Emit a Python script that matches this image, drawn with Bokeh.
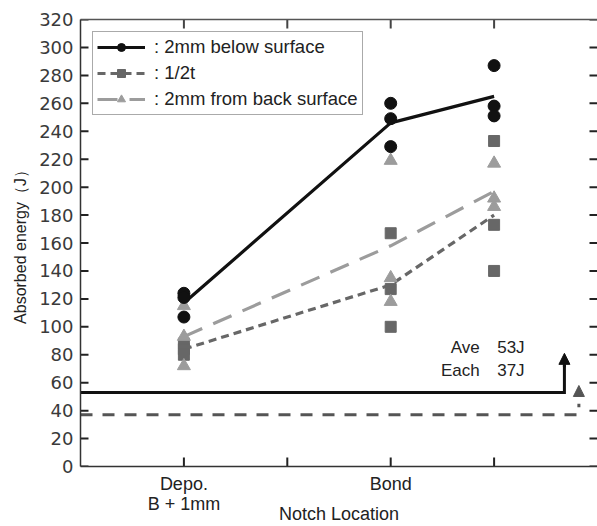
from bokeh.plotting import figure
from bokeh.models import LinearAxis, FixedTicker, Arrow, NormalHead, Label, Legend, LegendItem
from bokeh.embed import file_html
from bokeh.resources import INLINE

# ---------------- data ----------------
loc_x = [1, 3, 4]                     # notch location positions
tick_pos = [1, 2, 3, 4]
tick_labels = {1: "Depo.\nB + 1mm", 2: "", 3: "Bond", 4: ""}
y_ticks = list(range(0, 321, 20))

circ_x = [1, 1, 1, 3, 3, 3, 4, 4, 4]
circ_y = [124, 121, 107, 260, 249, 229, 287, 258, 251]
circ_avg = [117, 246, 265]

sq_x = [1, 1, 1, 3, 3, 3, 4, 4, 4]
sq_y = [88, 84, 80, 167, 127, 100, 233, 173, 140]
sq_avg = [84, 130, 180]

tri_x = [1, 1, 1, 3, 3, 3, 4, 4, 4]
tri_y = [115, 93, 72, 219, 135, 118, 217, 192, 186]
tri_avg = [93, 158, 197]

ave_j = 53
each_j = 37

names = [": 2mm below surface", ": 1/2t", ": 2mm from back surface"]

# ---------------- style ----------------
C_BLK = "#111111"
C_SQ = "#676767"
C_TRI = "#9c9c9c"
FONT = "Liberation Sans"
X0, X1, Y0, Y1 = 0, 5, 0, 320
FRAME_W, FRAME_H = 517, 445          # approximate frame size in px

p = figure(width=597, height=526, x_range=(X0, X1), y_range=(Y0, Y1),
           output_backend="svg", toolbar_location=None,
           min_border_left=80, min_border_right=0, min_border_top=19,
           min_border_bottom=57)
p.outline_line_color = None
p.grid.visible = False
p.background_fill_color = "white"

# left axis
ya = p.yaxis[0]
ya.ticker = FixedTicker(ticks=y_ticks)
ya.major_tick_in = 0
ya.major_tick_out = 0
ya.major_tick_line_color = None
ya.minor_tick_line_color = None
ya.major_label_standoff = 7
ya.major_label_text_font = "DejaVu Sans"
ya.major_label_text_font_size = "18px"
ya.major_label_text_color = "#3a3a3a"
ya.axis_line_color = "#333333"
ya.axis_line_width = 1.5
ya.axis_label = "Absorbed energy\uff08J\uff09"
ya.axis_label_text_font = FONT
ya.axis_label_text_font_size = "16px"
ya.axis_label_text_font_style = "normal"
ya.axis_label_text_color = "#222222"
ya.axis_label_standoff = 7

# bottom axis
xa = p.xaxis[0]
xa.ticker = FixedTicker(ticks=tick_pos)
xa.major_label_overrides = tick_labels
xa.major_tick_in = 0
xa.major_tick_out = 0
xa.major_tick_line_color = None
xa.minor_tick_line_color = None
xa.major_label_standoff = 7
xa.major_label_text_font = FONT
xa.major_label_text_font_size = "18px"
xa.major_label_text_line_height = 1.0
xa.major_label_text_color = "#222222"
xa.axis_line_color = "#333333"
xa.axis_line_width = 1.5
xa.axis_label = "Notch Location"
xa.axis_label_text_font = FONT
xa.axis_label_text_font_size = "18px"
xa.axis_label_text_font_style = "normal"
xa.axis_label_text_color = "#222222"
xa.axis_label_standoff = -13

# top axis (line only)
ta = LinearAxis(ticker=FixedTicker(ticks=tick_pos))
ta.major_label_overrides = {t: "" for t in tick_pos}
ta.major_label_standoff = 0
ta.major_tick_in = 0
ta.major_tick_out = 0
ta.major_tick_line_color = None
ta.minor_tick_line_color = None
ta.axis_line_color = "#555555"
ta.axis_line_width = 1.5
p.add_layout(ta, "above")

# inward tick marks (drawn inside the frame)
dx = 8 * (X1 - X0) / FRAME_W
dy = 9 * (Y1 - Y0) / FRAME_H
p.segment(x0=[X0] * len(y_ticks), y0=y_ticks, x1=[X0 + dx] * len(y_ticks), y1=y_ticks,
          line_color="#222222", line_width=2)
p.segment(x0=[X1] * len(y_ticks), y0=y_ticks, x1=[X1 - dx] * len(y_ticks), y1=y_ticks,
          line_color="#222222", line_width=2)
p.segment(x0=tick_pos, y0=[Y0] * len(tick_pos), x1=tick_pos, y1=[Y0 + dy] * len(tick_pos),
          line_color="#222222", line_width=2)
p.segment(x0=tick_pos, y0=[Y1] * len(tick_pos), x1=tick_pos, y1=[Y1 - dy] * len(tick_pos),
          line_color="#444444", line_width=2)

# ---------------- reference lines ----------------
x_arr_solid = 4.68
x_arr_dash = 4.82
p.line([0, x_arr_solid, x_arr_solid], [ave_j, ave_j, ave_j + 20],
       line_color=C_BLK, line_width=3, line_join="miter")
p.add_layout(Arrow(end=NormalHead(size=11, fill_color=C_BLK, line_color=C_BLK),
                   x_start=x_arr_solid, y_start=ave_j + 18,
                   x_end=x_arr_solid, y_end=ave_j + 28,
                   line_color=C_BLK, line_width=3))
p.line([0, x_arr_dash, x_arr_dash], [each_j, each_j, each_j + 8],
       line_color="#555555", line_width=3, line_dash="12 10")
p.add_layout(Arrow(end=NormalHead(size=11, fill_color="#555555", line_color="#555555"),
                   x_start=x_arr_dash, y_start=each_j + 14,
                   x_end=x_arr_dash, y_end=each_j + 21,
                   line_alpha=0, line_width=1))

for txt, yy, al, xx in [("Ave", 85, "right", 3.86), (f"{ave_j}J", 85, "left", 4.03),
                        ("Each", 69, "right", 3.86), (f"{each_j}J", 69, "left", 4.03)]:
    p.add_layout(Label(x=xx, y=yy, text=txt, text_align=al, text_baseline="middle",
                       text_font=FONT, text_font_size="17px", text_color="#222222"))

# ---------------- series ----------------
l1 = p.line(loc_x, circ_avg, line_color=C_BLK, line_width=3.2)
l2 = p.line(loc_x, sq_avg, line_color=C_SQ, line_width=3.2, line_dash="8 5")
l3 = p.line(loc_x, tri_avg, line_color=C_TRI, line_width=3.2, line_dash="20 12")

s2 = p.scatter(sq_x, sq_y, marker="square", size=11, fill_color=C_SQ, line_color=C_SQ)
s3 = p.scatter(tri_x, tri_y, marker="triangle", size=13, fill_color=C_TRI, line_color=C_TRI)
s1 = p.scatter(circ_x, circ_y, marker="circle", size=12, fill_color=C_BLK, line_color=C_BLK)

legend = Legend(items=[LegendItem(label=names[0], renderers=[l1, s1]),
                       LegendItem(label=names[1], renderers=[l2, s2]),
                       LegendItem(label=names[2], renderers=[l3, s3])],
                location="top_left")
legend.margin = 12
legend.padding = 4
legend.spacing = 4
legend.glyph_width = 48
legend.glyph_height = 20
legend.label_standoff = 9
legend.label_text_font = FONT
legend.label_text_font_size = "18.5px"
legend.label_text_color = "#222222"
legend.border_line_color = "#555555"
legend.border_line_width = 1.2
legend.background_fill_alpha = 1
p.add_layout(legend)

open("out.html", "w").write(file_html(p, INLINE))
